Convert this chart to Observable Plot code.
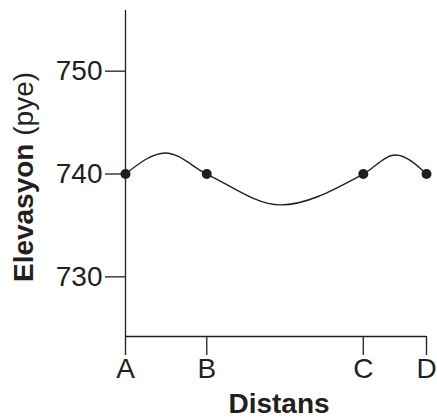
<!DOCTYPE html>
<html><head><meta charset="utf-8">
<script src="https://cdn.jsdelivr.net/npm/d3@7"></script>
<script src="https://cdn.jsdelivr.net/npm/@observablehq/plot@0.6"></script>
<style>body{margin:0;background:#fff}</style>
</head><body><div id="chart"></div>
<script>
// Labelled points along the distance axis
const pointLabels = ["A", "B", "C", "D"];
const pointDistance = [0, 2.7, 7.9, 10];
const pointElevation = [740, 740, 740, 740];
// Elevation profile (incl. the extrema)
const curveDistance = [0, 1.33, 2.7, 5.15, 7.9, 8.97, 10];
const curveElevation = [740, 742.05, 740, 737.0, 740, 741.85, 740];
// Axis ticks / domain
const yTicks = [730, 740, 750];
const yDomain = [724.2, 755.9];
const xDomain = [0, 10];

const points = pointLabels.map((l, i) => ({label: l, x: pointDistance[i], y: pointElevation[i]}));
const curve = curveDistance.map((d, i) => ({x: d, y: curveElevation[i]}));
const ink = "#231f20";
const font = "'Liberation Sans', Arial, Helvetica, sans-serif";

const chart = Plot.plot({
  width: 437, height: 420,
  marginLeft: 125, marginRight: 11, marginTop: 10, marginBottom: 84,
  style: {fontFamily: font, fontSize: "28px", color: ink, background: "#fff"},
  x: {domain: xDomain, axis: null},
  y: {domain: yDomain, axis: null},
  marks: [
    Plot.axisY(yTicks, {tickSize: 20, tickPadding: 3, fontSize: 28, strokeWidth: 1.3, label: null}),
    Plot.axisX(pointDistance, {tickSize: 19, tickPadding: 3, fontSize: 28, strokeWidth: 1.3, label: null,
      tickFormat: d => pointLabels[pointDistance.indexOf(d)]}),
    Plot.ruleX([xDomain[0]], {stroke: ink, strokeWidth: 1.3}),
    Plot.ruleY([yDomain[0]], {stroke: ink, strokeWidth: 1.3}),
    Plot.line(curve, {x: "x", y: "y", curve: "monotone-x", stroke: ink, strokeWidth: 1.4}),
    Plot.dot(points, {x: "x", y: "y", r: 5, fill: ink, stroke: "none"})
  ]
});

const svg = d3.select(chart);
// y axis title (mixed weights)
const yt = svg.append("text")
  .attr("transform", "translate(33,177) rotate(-90)")
  .attr("text-anchor", "middle")
  .attr("fill", ink)
  .style("font-family", font)
  .style("font-size", "28px");
yt.append("tspan").attr("font-weight", "bold").text("Elevasyon");
yt.append("tspan").text(" (pye)");
// x axis title
svg.append("text")
  .attr("x", 279).attr("y", 413)
  .attr("text-anchor", "middle")
  .attr("fill", ink)
  .attr("font-weight", "bold")
  .style("font-family", font)
  .style("font-size", "28px")
  .text("Distans");

document.getElementById("chart").appendChild(chart);
</script>
</body></html>
